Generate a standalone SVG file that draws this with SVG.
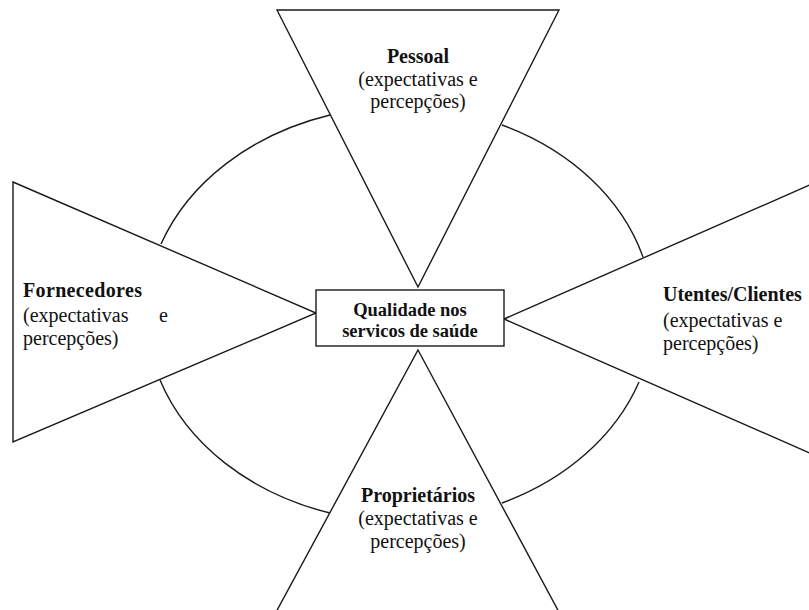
<svg xmlns="http://www.w3.org/2000/svg" width="809" height="610" viewBox="0 0 809 610">
  <style>
    .shape { fill: #ffffff; stroke: #1a1a1a; stroke-width: 1.4; stroke-linejoin: miter; }
    .arc { fill: none; stroke: #1a1a1a; stroke-width: 1.4; }
    text { font-family: "Liberation Serif", "Times New Roman", serif; fill: #111111; }
    .title { font-weight: bold; font-size: 20px; }
    .sub { font-size: 20px; }
    .core { font-weight: bold; font-size: 18.5px; }
  </style>
  <rect width="809" height="610" fill="#ffffff"/>

  <!-- arcs linking neighbouring stakeholder wedges -->
  <g id="connectors">
    <path class="arc" d="M161,244 A259,209 0 0 1 330,115"/>
    <path class="arc" d="M502,125 A259,209 0 0 1 643,257"/>
    <path class="arc" d="M160,380 A259,209 0 0 0 330,513"/>
    <path class="arc" d="M639,382 A259,209 0 0 1 502,503"/>
  </g>

  <g id="pessoal">
    <polygon class="shape" points="277,10 559,10 418,287"/>
    <text class="title" x="418" y="63" text-anchor="middle">Pessoal</text>
    <text class="sub" x="418" y="86" text-anchor="middle">(expectativas e</text>
    <text class="sub" x="418" y="108" text-anchor="middle">percepções)</text>
  </g>

  <g id="fornecedores">
    <polygon class="shape" points="13,182 316,313 13,442"/>
    <text class="title" x="23" y="297" textLength="119" lengthAdjust="spacing">Fornecedores</text>
    <text class="sub" x="23" y="322">(expectativas</text>
    <text class="sub" x="168" y="322" text-anchor="end">e</text>
    <text class="sub" x="23" y="345">percepções)</text>
  </g>

  <g id="utentes">
    <polygon class="shape" points="504,319 812,184 812,454"/>
    <text class="title" x="663" y="301">Utentes/Clientes</text>
    <text class="sub" x="663" y="327">(expectativas e</text>
    <text class="sub" x="663" y="350">percepções)</text>
  </g>

  <g id="proprietarios">
    <polygon class="shape" points="418,350 560,614 275,614"/>
    <text class="title" x="418" y="502" text-anchor="middle">Proprietários</text>
    <text class="sub" x="418" y="525" text-anchor="middle">(expectativas e</text>
    <text class="sub" x="418" y="548" text-anchor="middle">percepções)</text>
  </g>

  <g id="qualidade">
    <rect class="shape" x="316" y="290" width="188" height="56"/>
    <text class="core" x="410" y="316" text-anchor="middle">Qualidade nos</text>
    <text class="core" x="410" y="337" text-anchor="middle">servicos de saúde</text>
  </g>
</svg>
